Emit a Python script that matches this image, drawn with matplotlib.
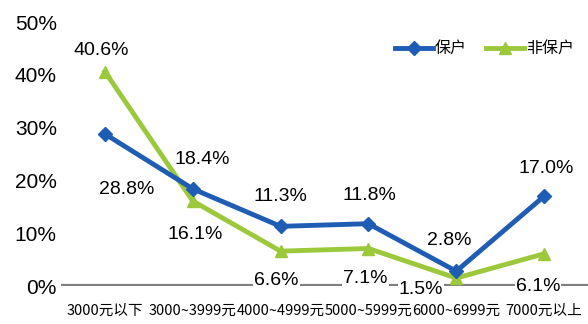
import matplotlib
matplotlib.use("Agg")
import matplotlib.pyplot as plt
import numpy as np

categories = ["3000元以下", "3000~3999元", "4000~4999元", "5000~5999元", "6000~6999元", "7000元以上"]
insured = [28.8, 18.4, 11.3, 11.8, 2.8, 17.0]
uninsured = [40.6, 16.1, 6.6, 7.1, 1.5, 6.1]
series_names = ["保户", "非保户"]
y_ticks = [0, 10, 20, 30, 40, 50]

# label offsets in pixels (dx, dy with dy downward)
off_insured = [(22, 56), (10, -29), (0, -30), (1, -28), (-7, -31), (2, -28)]
off_uninsured = [(-4, -21), (2, 34), (-4, 29), (-3, 30), (-35, 11), (-6, 33)]

plt.rcParams['font.family'] = ['Liberation Sans', 'Noto Sans CJK SC', 'DejaVu Sans']

fig = plt.figure(figsize=(5.88, 3.24), dpi=100)
ax = fig.add_axes([61/588, 1-286/324, 527/588, (286-22)/324])

blue = "#1f5db5"
green = "#9cc83c"
x = np.arange(len(categories))

ax.axhline(0, color="#7f7f7f", lw=3, zorder=1)
ax.plot(x, uninsured, color=green, lw=3.5, marker="^", ms=9, zorder=3, label=series_names[1])
ax.plot(x, insured, color=blue, lw=3.5, marker="D", ms=7, zorder=4, label=series_names[0])

ax.set_xlim(-0.5, len(categories) - 0.5)
ax.set_ylim(0, 50)
ax.set_yticks(y_ticks)
ax.set_yticklabels([f"{v}%" for v in y_ticks], fontsize=15, family=['Liberation Sans'])
ax.set_xticks(x)
ax.set_xticklabels(categories, fontsize=10.5, family=['Noto Sans CJK SC', 'DejaVu Sans'])
ax.tick_params(axis='both', length=0)
ax.tick_params(axis='y', pad=3)
ax.tick_params(axis='x', pad=13)
for s in ax.spines.values():
    s.set_visible(False)

px = 72 / 100.0
for vals, offs in ((insured, off_insured), (uninsured, off_uninsured)):
    for i, (v, (dx, dy)) in enumerate(zip(vals, offs)):
        ax.annotate(f"{v:.1f}%", (x[i], v), xytext=(dx * px, -dy * px), textcoords="offset points",
                    ha="center", va="center", fontsize=14,
                    bbox=dict(boxstyle="square,pad=0.05", fc="white", ec="none"), zorder=6)

handles, labels = ax.get_legend_handles_labels()
leg = ax.legend(handles[::-1], labels[::-1], loc="upper right", bbox_to_anchor=(1.0, 0.985),
                ncol=2, frameon=False, handlelength=2.4, handletextpad=0.1,
                columnspacing=1.2, prop={'family': ['Noto Sans CJK SC'], 'size': 11.5, 'weight': 'medium'})

fig.savefig("out.png", dpi=100, facecolor="white")
